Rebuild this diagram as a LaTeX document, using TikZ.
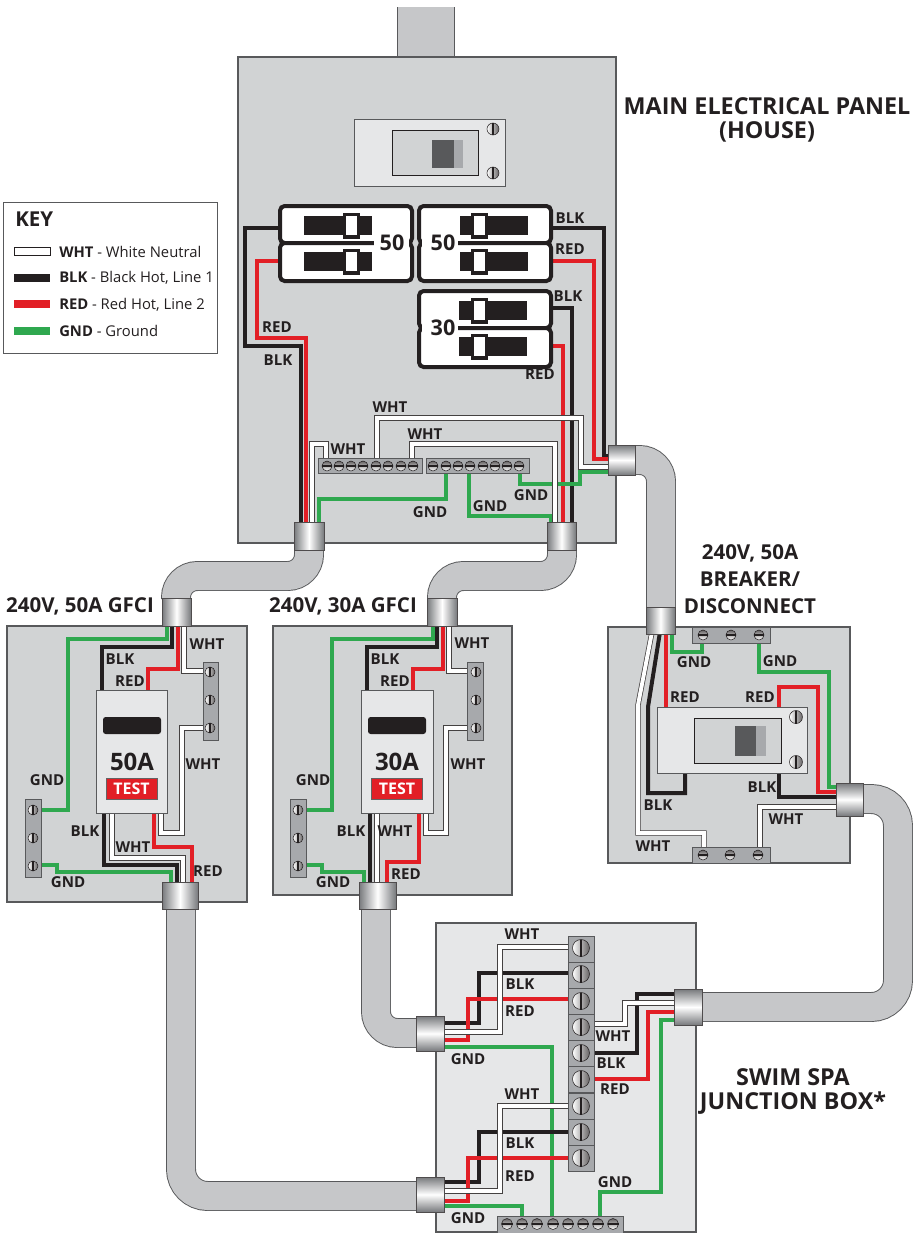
\documentclass[tikz,border=0pt]{standalone}
\usepackage{fontspec}
\setmainfont{Open Sans}
\definecolor{ink}{HTML}{231F20}
\definecolor{edgeg}{HTML}{58595B}
\definecolor{panelg}{HTML}{D1D3D4}
\definecolor{lightp}{HTML}{E6E7E8}
\definecolor{condg}{HTML}{C6C7C9}
\definecolor{barg}{HTML}{A7A9AC}
\definecolor{fitg}{HTML}{77797C}
\definecolor{wred}{HTML}{E21F26}
\definecolor{wgrn}{HTML}{2FA84F}
\tikzset{
  panel/.style={draw=edgeg,line width=.8pt,fill=panelg},
  lpanel/.style={draw=edgeg,line width=.8pt,fill=lightp},
  conduit/.style={draw=edgeg,line width=.7pt,double=condg,double distance=21pt,rounded corners=#1},
  conduit/.default=16pt,
  blkw/.style={draw=ink,line width=3pt},
  redw/.style={draw=wred,line width=3pt},
  grnw/.style={draw=wgrn,line width=3pt},
  whtw/.style={draw=ink!85,line width=.55pt,double=white,double distance=2.9pt},
  bar/.style={draw=edgeg,line width=.7pt,fill=barg},
  brk/.style={draw=ink,line width=3pt,fill=white,rounded corners=3.5pt},
  lab/.style={font=\fontsize{11.3}{13}\selectfont\bfseries,text=ink,inner sep=0pt},
  brknum/.style={font=\fontsize{16.2}{19}\selectfont\bfseries,text=ink,inner sep=0pt},
  ttl/.style={font=\fontsize{17.5}{21}\selectfont\bfseries,text=ink,inner sep=0pt},
  ttlb/.style={font=\fontsize{15.4}{18}\selectfont\bfseries,text=ink,inner sep=0pt},
  keyt/.style={font=\fontsize{11.1}{13}\selectfont,text=ink,inner sep=0pt,anchor=west},
  fitv/.style={draw=ink!80,line width=.7pt,left color=fitg,right color=fitg,middle color=white},
  fith/.style={draw=ink!80,line width=.7pt,top color=fitg,bottom color=fitg,middle color=white},
}
\newcounter{lb}
\newcommand{\lbl}[2]{\stepcounter{lb}\node[lab] (lb\thelb) at (#1) {#2};}
% screw with horizontal slot: x,y,r
\newcommand{\screwH}[3]{\draw[draw=ink,line width=.4pt,top color=ink!70,bottom color=white] (#1,#2) circle (#3);
  \draw[ink,line width=.9pt] (#1-#3,#2) -- (#1+#3,#2);}
\newcommand{\screwV}[3]{\draw[draw=ink,line width=.4pt,right color=ink!70,left color=white] (#1,#2) circle (#3);
  \draw[ink,line width=.9pt] (#1,#2-#3) -- (#1,#2+#3);}
% slider: xbar0,xbar1,y0,y1,xh0,xh1
\newcommand{\slider}[6]{\fill[ink] (#1,#3) rectangle (#2,#4);
  \fill[ink] (#5,#3-3.5) rectangle (#6,#4+3.5);
  \fill[white] (#5+3,#3) rectangle (#6-3,#4);}
\begin{document}
\begin{tikzpicture}[x=.75pt,y=-.75pt]
\useasboundingbox (0,0) rectangle (921,1233);
% ---- panels
\draw[conduit,double distance=42.7pt] (426,7) -- (426,58);
\draw[panel] (238,57) rectangle (616,543);
\draw[panel] (7,626) rectangle (247,902);
\draw[panel] (273,626) rectangle (512,895);
\draw[panel] (608,627) rectangle (850,863);
\draw[lpanel] (436,923) rectangle (696,1232);
% ---- conduits
\draw[conduit] (309,549) -- (309,576) -- (176,576) -- (176,599);
\draw[conduit] (562,549) -- (562,576) -- (442,576) -- (442,599);
\draw[conduit] (634,460) -- (661,460) -- (661,608);
\draw[conduit=20pt] (862,799) -- (898,799) -- (898,1007) -- (701,1007);
\draw[conduit] (376,908) -- (376,1033) -- (417,1033);
\draw[conduit=20pt] (181,908) -- (181,1196) -- (417,1196);
% ---- main breaker
\draw[draw=edgeg,line width=.6pt,fill=lightp] (354,119) rectangle (505,186);
\draw[draw=ink,line width=.6pt,fill=panelg] (392,130) rectangle (478,175);
\fill[edgeg] (432,140) rectangle (454,168);
\fill[barg] (454,140) rectangle (463,168);
\screwV{493}{129}{6}
\screwV{493}{173}{6}
% ---- main panel wires
\draw[blkw] (282,228) -- (245,228) -- (245,346) -- (301,346) -- (301,524);
\draw[redw] (282,261) -- (257,261) -- (257,338) -- (306,338) -- (306,524);
\draw[blkw] (549,228) -- (604,228) -- (604,456) -- (610,456);
\draw[redw] (549,261) -- (594,261) -- (594,459) -- (610,459);
\draw[blkw] (548,308) -- (572,308) -- (572,524);
\draw[redw] (548,346) -- (563,346) -- (563,524);
\draw[grnw] (446,472) -- (446,499) -- (319,499) -- (319,524);
\draw[grnw] (469,472) -- (469,516) -- (551,516) -- (551,524);
\draw[grnw] (520,472) -- (520,484) -- (580,484) -- (580,472) -- (610,472);
\draw[whtw] (377,462) -- (377,418) -- (581,418) -- (581,467) -- (610,467);
\draw[whtw] (412,462) -- (412,444) -- (555,444) -- (555,524);
\draw[whtw] (326,462) -- (326,444) -- (312,444) -- (312,524);
% ---- breakers
\draw[brk] (280,206) rectangle (412,243);
\draw[brk] (280,243) rectangle (412,281);
\draw[brk] (419,206) rectangle (551,243);
\draw[brk] (419,243) rectangle (551,281);
\draw[brk] (419,291) rectangle (551,328);
\draw[brk] (419,328) rectangle (551,367);
\fill[white] (374,240) rectangle (409,246);
\fill[white] (422,240) rectangle (458,246);
\fill[white] (422,325) rectangle (458,331);
\slider{304}{372}{216}{235}{343}{360}
\slider{304}{372}{252}{271}{343}{360}
\slider{460}{528}{216}{235}{471}{488}
\slider{460}{528}{252}{271}{471}{488}
\slider{459}{527}{301}{320}{471}{488}
\slider{459}{527}{337}{356}{471}{488}
\node[brknum] (n50a) at (392,243) {50};
\node[brknum] (n50b) at (443,243) {50};
\node[brknum] (n30) at (443,328) {30};
% ---- main panel terminal bars
\draw[bar] (318,458) rectangle (422,473);
\draw[bar] (426,458) rectangle (529,473);
\foreach \x in {327,339,351,363,376,388,401,413,433,446,458,470,483,495,507,519} {\screwH{\x}{466}{5}}
% ---- GFCI 50 wires
\draw[grnw] (167,624) -- (167,639) -- (68,639) -- (68,810) -- (41,810);
\draw[blkw] (172,624) -- (172,647) -- (102,647) -- (102,692);
\draw[redw] (178,624) -- (178,669) -- (148,669) -- (148,692);
\draw[whtw] (184,624) -- (184,671) -- (204,671);
\draw[whtw] (204,728) -- (182,728) -- (182,833) -- (161,833) -- (161,811);
\draw[blkw] (104,811) -- (104,865) -- (177,865) -- (177,884);
\draw[whtw] (112,811) -- (112,858) -- (183,858) -- (183,884);
\draw[redw] (154,811) -- (154,847) -- (192,847) -- (192,884);
\draw[grnw] (41,865) -- (57,865) -- (57,872) -- (171,872) -- (171,884);
\draw[draw=edgeg,line width=.7pt,fill=lightp] (96,690) rectangle (167,813);
\fill[ink,rounded corners=2pt] (103,717) rectangle (161,734);
\node[ttl,font=\fontsize{18}{20}\selectfont\bfseries] (a50) at (132,762) {50A};
\node[draw=ink!70,line width=.5pt,fill=wred,text=white,minimum width=38pt,minimum height=15.5pt,inner sep=0pt,font=\fontsize{12}{14}\selectfont\bfseries] (t50) at (131.5,788.5) {TEST};
\draw[bar] (203,662) rectangle (218,740);
\draw[bar] (25,799) rectangle (41,877);
\foreach \y in {672,700,728} {\screwV{210}{\y}{5}}
\foreach \y in {810,838,866} {\screwV{33}{\y}{5}}
% ---- GFCI 30 wires
\draw[grnw] (433,624) -- (433,639) -- (332,639) -- (332,810) -- (306,810);
\draw[blkw] (437,624) -- (437,647) -- (367,647) -- (367,692);
\draw[redw] (443,624) -- (443,669) -- (413,669) -- (413,692);
\draw[whtw] (449,624) -- (449,671) -- (468,671);
\draw[whtw] (468,728) -- (446,728) -- (446,833) -- (426,833) -- (426,811);
\draw[blkw] (370,811) -- (370,884);
\draw[whtw] (377,811) -- (377,884);
\draw[redw] (419,811) -- (419,862) -- (387,862) -- (387,884);
\draw[grnw] (306,865) -- (322,865) -- (322,872) -- (364,872) -- (364,884);
\draw[draw=edgeg,line width=.7pt,fill=lightp] (361,690) rectangle (433,813);
\fill[ink,rounded corners=2pt] (368,717) rectangle (426,734);
\node[ttl,font=\fontsize{18}{20}\selectfont\bfseries] (a30) at (397,762) {30A};
\node[draw=ink!70,line width=.5pt,fill=wred,text=white,minimum width=38pt,minimum height=15.5pt,inner sep=0pt,font=\fontsize{12}{14}\selectfont\bfseries] (t30) at (397,788.5) {TEST};
\draw[bar] (467,662) rectangle (483,740);
\draw[bar] (290,799) rectangle (306,877);
\foreach \y in {672,700,728} {\screwV{476}{\y}{5}}
\foreach \y in {810,838,866} {\screwV{298}{\y}{5}}
% ---- Disconnect wires
\draw[redw] (666,632) -- (666,709);
\draw[grnw] (672,632) -- (672,652) -- (702,652) -- (702,641);
\draw[grnw] (759,641) -- (759,672) -- (829,672) -- (829,787) -- (838,787);
\draw[redw] (779,709) -- (779,687) -- (818,687) -- (818,792) -- (838,792);
\draw[blkw] (660,632) -- (648,707) -- (648,793) -- (685,793) -- (685,771);
\draw[blkw] (779,771) -- (779,797) -- (838,797);
\draw[whtw] (652,632) -- (638,705) -- (638,833) -- (704,833) -- (704,849);
\draw[whtw] (760,849) -- (760,807) -- (838,807);
\draw[draw=edgeg,line width=.7pt,fill=lightp] (657,707) rectangle (807,773);
\draw[draw=ink,line width=.6pt,fill=panelg] (694,718) rectangle (781,763);
\fill[edgeg] (735,726) rectangle (756,756);
\fill[barg] (756,726) rectangle (766,756);
\screwV{796}{717}{6.5}
\screwV{796}{762}{6.5}
\draw[bar] (692,627) rectangle (770,643);
\draw[bar] (692,847) rectangle (770,863);
\foreach \x in {703,731,759} {\screwH{\x}{635}{5}}
\foreach \x in {703,730,758} {\screwH{\x}{855}{5}}
% ---- Junction wires
\draw[grnw] (442,1047) -- (552,1047) -- (552,1218);
\draw[grnw] (442,1206) -- (522,1206) -- (522,1218);
\draw[grnw] (676,1020) -- (661,1020) -- (661,1192) -- (600,1192) -- (600,1218);
\draw[blkw] (442,1023) -- (479,1023) -- (479,973) -- (570,973);
\draw[redw] (442,1040) -- (468,1040) -- (468,999) -- (570,999);
\draw[whtw] (442,1032) -- (500,1032) -- (500,947) -- (570,947);
\draw[blkw] (442,1182) -- (479,1182) -- (479,1132) -- (570,1132);
\draw[redw] (442,1201) -- (468,1201) -- (468,1158) -- (570,1158);
\draw[whtw] (442,1191) -- (500,1191) -- (500,1106) -- (570,1106);
\draw[blkw] (592,1053) -- (637,1053) -- (637,994) -- (676,994);
\draw[whtw] (592,1024) -- (625,1024) -- (625,1003) -- (676,1003);
\draw[redw] (592,1079) -- (648,1079) -- (648,1012) -- (676,1012);
% terminal column
\foreach \y in {936,962,988,1014,1040,1066,1093,1119,1145} {\draw[bar] (568,\y) rectangle (594,\y+26.5);}
\foreach \y in {948,974,1001,1027,1053,1079,1106,1132,1158} {\screwV{581}{\y}{8.5}}
\draw[bar] (497,1216) rectangle (623,1233);
\foreach \x in {507,522,537,553,568,583,598,613} {\screwH{\x}{1224}{5.5}}
% ---- fittings
\draw[fitv] (294,522) rectangle (324,550);
\draw[fitv] (547,522) rectangle (576,550);
\draw[fith] (608,445) rectangle (635,475);
\draw[fitv] (646,607) rectangle (675,634);
\draw[fitv] (162,598) rectangle (191,626);
\draw[fitv] (427,598) rectangle (457,626);
\draw[fitv] (162,882) rectangle (198,909);
\draw[fitv] (359,882) rectangle (396,909);
\draw[fith] (836,783) rectangle (863,816);
\draw[fith] (674,989) rectangle (702,1025);
\draw[fith] (416,1016) rectangle (444,1051);
\draw[fith] (416,1177) rectangle (444,1212);
% ---- titles
\node[ttl] (t1) at (767,106) {MAIN ELECTRICAL PANEL};
\node[ttl] (t2) at (767,132) {(HOUSE)};
\node[ttlb] (t3) at (80,606) {240V, 50A GFCI};
\node[ttlb] (t4) at (343,606) {240V, 30A GFCI};
\node[ttlb] (t5) at (750,553) {240V, 50A};
\node[ttlb] (t6) at (750,579) {BREAKER/};
\node[ttlb] (t7) at (750,606) {DISCONNECT};
\node[ttl] (t8) at (793,1077) {SWIM SPA};
\node[ttl] (t9) at (793,1103) {JUNCTION BOX*};
% ---- key
\draw[draw=edgeg,line width=.6pt,fill=white] (3,202) rectangle (217,353);
\node[ttlb,anchor=west] (k0) at (15,219) {KEY};
\draw[draw=ink,line width=.6pt,fill=white] (14,247.5) rectangle (50,255.5);
\fill[ink] (14,274) rectangle (50,282);
\fill[wred] (14,300) rectangle (50,308);
\fill[wgrn] (14,327) rectangle (50,335);
\node[keyt] (k1) at (59,251.5) {\textbf{WHT} - White Neutral};
\node[keyt] (k2) at (59,278) {\textbf{BLK} - Black Hot, Line 1};
\node[keyt] (k3) at (59,304.5) {\textbf{RED} - Red Hot, Line 2};
\node[keyt] (k4) at (59,331) {\textbf{GND} - Ground};
% ---- labels
\lbl{570,218}{BLK}\lbl{570,249}{RED}\lbl{568,296}{BLK}\lbl{540,374}{RED}
\lbl{277,327}{RED}\lbl{278,360}{BLK}
\lbl{390,407}{WHT}\lbl{425,434}{WHT}\lbl{348,449}{WHT}
\lbl{430,512}{GND}\lbl{490,506}{GND}\lbl{531,495}{GND}
\lbl{207,644}{WHT}\lbl{120,659}{BLK}\lbl{130,681}{RED}\lbl{203,764}{WHT}
\lbl{47,780}{GND}\lbl{85,831}{BLK}\lbl{133,847}{WHT}\lbl{208,871}{RED}\lbl{68,882}{GND}
\lbl{472,643}{WHT}\lbl{385,659}{BLK}\lbl{395,681}{RED}\lbl{468,764}{WHT}
\lbl{313,780}{GND}\lbl{351,831}{BLK}\lbl{395,831}{WHT}\lbl{406,874}{RED}\lbl{333,882}{GND}
\lbl{694,662}{GND}\lbl{780,661}{GND}\lbl{685,697}{RED}\lbl{760,697}{RED}
\lbl{762,787}{BLK}\lbl{658,805}{BLK}\lbl{786,819}{WHT}\lbl{653,846}{WHT}
\lbl{522,934}{WHT}\lbl{520,984}{BLK}\lbl{520,1011}{RED}\lbl{613,1036}{WHT}
\lbl{611,1063}{BLK}\lbl{468,1059}{GND}\lbl{615,1089}{RED}\lbl{522,1094}{WHT}
\lbl{520,1143}{BLK}\lbl{520,1176}{RED}\lbl{615,1182}{GND}\lbl{468,1218}{GND}
\end{tikzpicture}
\end{document}
